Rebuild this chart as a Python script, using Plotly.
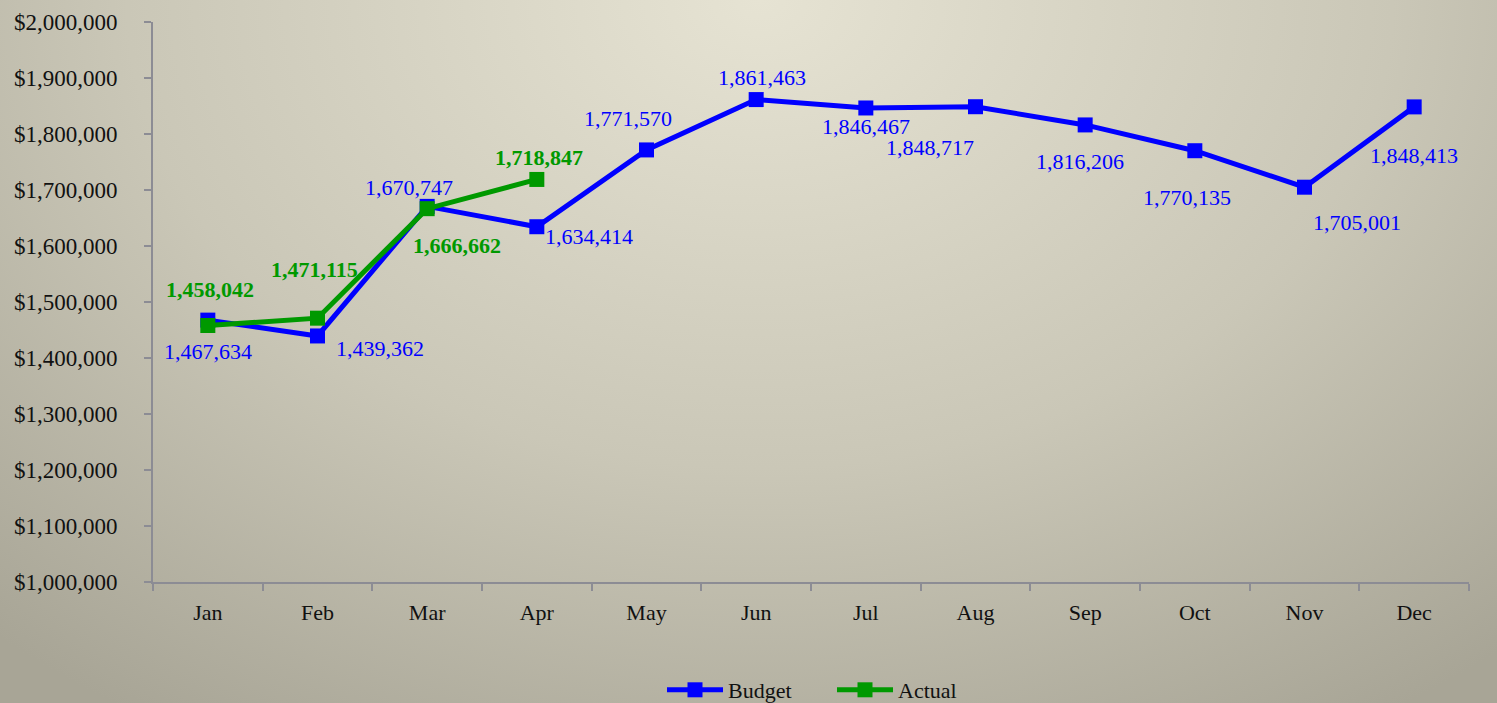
import plotly.graph_objects as go
import urllib.parse

months = ["Jan", "Feb", "Mar", "Apr", "May", "Jun", "Jul", "Aug", "Sep", "Oct", "Nov", "Dec"]
budget = [1467634, 1439362, 1670747, 1634414, 1771570, 1861463, 1846467, 1848717, 1816206, 1770135, 1705001, 1848413]
actual_months = ["Jan", "Feb", "Mar", "Apr"]
actual = [1458042, 1471115, 1666662, 1718847]
y_ticks = [1000000 + 100000 * i for i in range(11)]
y_tick_text = [f"${v:,}" for v in y_ticks]

# label offsets (pixels, dx, dy with dy positive = downward)
budget_offsets = [(0, 31), (62, 13), (-18, -19), (52, 10), (-19, -31), (6, -22),
                  (0, 19), (-46, 41), (-5, 37), (-8, 47), (52, 35), (0, 49)]
actual_offsets = [(2, -36), (-3, -49), (30, 37), (2, -22)]

FONT = "Liberation Serif"
BLUE = "#0000ff"
GREEN = "#009900"
AXIS = "#8c8c94"

W, H = 1497, 703
ML, MR, MT, MB = 153, 28, 22, 121
PW, PH = W - ML - MR, H - MT - MB

svg = (
    "<svg xmlns='http://www.w3.org/2000/svg' width='1497' height='703' viewBox='0 0 1497 703' preserveAspectRatio='none'>"
    "<defs><radialGradient id='g' gradientUnits='userSpaceOnUse' cx='760' cy='0' r='1000' "
    "gradientTransform='translate(760 0) scale(1.15 0.85) translate(-760 0)'>"
    "<stop offset='0' stop-color='#e6e3d3'/><stop offset='0.55' stop-color='#cac7b7'/>"
    "<stop offset='1' stop-color='#a8a596'/></radialGradient></defs>"
    "<rect width='1497' height='703' fill='url(#g)'/></svg>"
)
bg_src = "data:image/svg+xml;charset=utf-8," + urllib.parse.quote(svg)

fig = go.Figure()
fig.add_trace(go.Scatter(
    x=months, y=budget, name="Budget", mode="lines+markers",
    line=dict(color=BLUE, width=5), marker=dict(symbol="square", size=15, color=BLUE),
))
fig.add_trace(go.Scatter(
    x=actual_months, y=actual, name="Actual", mode="lines+markers",
    line=dict(color=GREEN, width=5), marker=dict(symbol="square", size=15, color=GREEN),
))

annotations = []
for m, v, (dx, dy) in zip(months, budget, budget_offsets):
    annotations.append(dict(x=m, y=v, text=f"{v:,}", showarrow=False, xshift=dx, yshift=-dy,
                            font=dict(family=FONT, size=22, color=BLUE)))
for m, v, (dx, dy) in zip(actual_months, actual, actual_offsets):
    annotations.append(dict(x=m, y=v, text=f"<b>{v:,}</b>", showarrow=False, xshift=dx, yshift=-dy,
                            font=dict(family=FONT, size=22, color=GREEN)))

fig.update_layout(
    width=W, height=H, autosize=False,
    margin=dict(l=ML, r=MR, t=MT, b=MB, autoexpand=False),
    paper_bgcolor="#b3b0a1", plot_bgcolor="rgba(0,0,0,0)",
    font=dict(family=FONT, size=22, color="#111111"),
    showlegend=True,
    legend=dict(orientation="h", xref="container", yref="container",
                x=(668 - 6) / W, xanchor="left", y=(H - 690) / H, yanchor="middle",
                font=dict(family=FONT, size=22, color="#111111"), bgcolor="rgba(0,0,0,0)",
                itemwidth=56, entrywidth=99, entrywidthmode="pixels",
                tracegroupgap=0),
    annotations=annotations,
    images=[dict(source=bg_src, xref="paper", yref="paper",
                 x=-ML / PW, y=1 + MT / PH, sizex=W / PW, sizey=H / PH,
                 xanchor="left", yanchor="top", sizing="stretch", layer="below")],
)
fig.update_xaxes(
    type="category", categoryorder="array", categoryarray=months, range=[-0.5, 11.5],
    showline=True, linecolor=AXIS, linewidth=2, ticks="outside", tickson="boundaries",
    ticklen=7, tickcolor=AXIS, tickwidth=2, showgrid=False, zeroline=False,
    ticklabelstandoff=10,
    tickfont=dict(family=FONT, size=22, color="#111111"),
)
fig.update_yaxes(
    range=[1000000, 2000000], tickvals=y_ticks, ticktext=y_tick_text,
    showline=True, linecolor=AXIS, linewidth=2, ticks="outside", ticklen=7,
    tickcolor=AXIS, tickwidth=2, showgrid=False, zeroline=False,
    ticklabelstandoff=22,
    tickfont=dict(family=FONT, size=23, color="#111111"),
)

fig.write_html(
    "out.html",
    config={"displayModeBar": False},
    post_script="document.documentElement.style.margin='0';document.body.style.margin='0';document.body.style.padding='0';document.body.style.overflow='hidden';",
)
